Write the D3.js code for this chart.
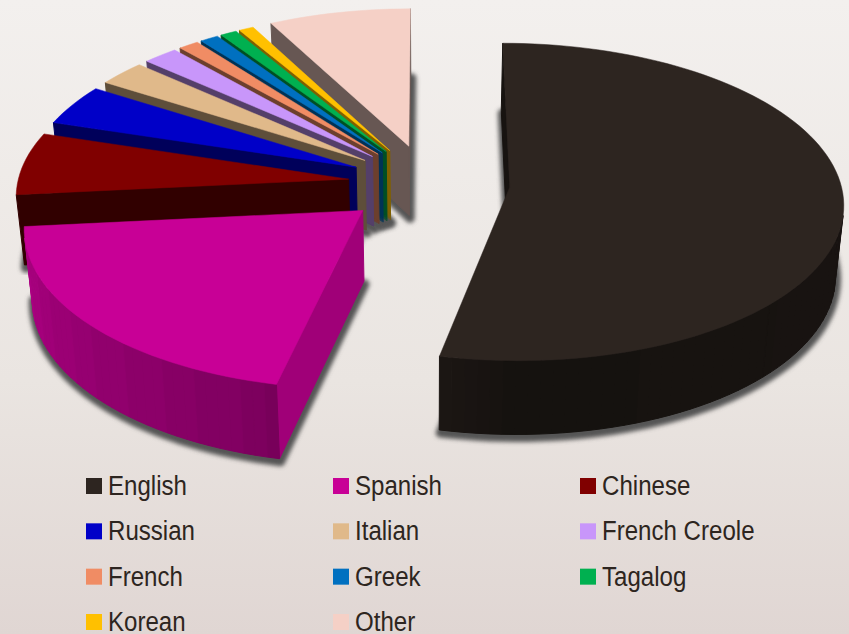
<!DOCTYPE html>
<html>
<head>
<meta charset="utf-8">
<script src="https://cdn.jsdelivr.net/npm/d3@7"></script>
<style>
  html, body { margin: 0; padding: 0; }
  svg { display: block; }
</style>
</head>
<body>
<svg id="graph"></svg>
<script>
const languages = ["English", "Spanish", "Chinese", "Russian", "Italian", "French Creole", "French", "Greek", "Tagalog", "Korean", "Other"];
const shares = [53.5, 20.0, 6.4, 4.2, 2.6, 1.9, 1.1, 1.0, 0.9, 0.8, 7.7];
const colors = ["#2d2520", "#c80096", "#800000", "#0000c8", "#e0b98a", "#c896fa", "#f08c64", "#0070c0", "#00b050", "#ffc000", "#f5d0c6"];
const sideShade = [0.5, 0.8, 0.38, 0.45, 0.42, 0.42, 0.45, 0.45, 0.45, 0.5, 0.42];
const pull = [82, 86, 80, 80, 80, 80, 80, 80, 80, 80, 82];

const width = 849;
const height = 634;
const radius = 331;
const thickness = 70;
const center = { x: 428, y: 183 };
const tilt = 0.473;
const persp = 0.00028;
const shrink = 0.02;

const svg = d3.select("#graph").attr("width", width).attr("height", height);
const defs = svg.append("defs");

const grad = defs.append("linearGradient").attr("id", "bg").attr("x1", 0).attr("x2", 0).attr("y1", 0).attr("y2", 1);
grad.append("stop").attr("offset", "0%").attr("stop-color", "#f3f0ee");
grad.append("stop").attr("offset", "60%").attr("stop-color", "#eae5e1");
grad.append("stop").attr("offset", "100%").attr("stop-color", "#e0d6d3");
defs.append("filter").attr("id", "blur")
  .attr("x", "-10%").attr("y", "-10%").attr("width", "120%").attr("height", "120%")
  .append("feGaussianBlur").attr("stdDeviation", 2.2);

svg.append("rect").attr("width", width).attr("height", height).attr("fill", "url(#bg)");

const pie = d3.pie().sort(null);
const arcs = pie(shares).map((d, i) => {
  d.i = i;
  d.mid = (d.startAngle + d.endAngle) / 2;
  return d;
});

// ground plane to screen: y grows towards the viewer, depth 0..1 goes down the side
function project(X, Y, depth) {
  const s = 1 / (1 - persp * Y);
  const k = 1 - shrink * depth;
  return [
    center.x + X * s * k,
    center.y + Y * tilt * s * k + depth * thickness * s
  ];
}

const line = d3.line().curve(d3.curveLinear);
const arcShade = d3.scaleLinear()
  .domain([0, Math.PI / 2, Math.PI, 1.08 * Math.PI, 1.47 * Math.PI, 2 * Math.PI])
  .range([0.55, 0.55, 0.47, 0.62, 0.87, 0.6])
  .clamp(true);

function shade(color, f) {
  const c = d3.rgb(color);
  return d3.rgb(c.r * f, c.g * f, c.b * f).formatHex();
}

function area(pts) {
  return d3.sum(pts, (p, i) => {
    const q = pts[(i + 1) % pts.length];
    return p[0] * q[1] - q[0] * p[1];
  });
}

function drawSlice(d) {
  const g = svg.append("g").attr("class", "slice");
  const ox = pull[d.i] * Math.sin(d.mid);
  const oy = -pull[d.i] * Math.cos(d.mid);
  const steps = Math.max(2, Math.ceil((d.endAngle - d.startAngle) / 0.035));
  const angles = d3.range(steps + 1).map((j) => d.startAngle + (d.endAngle - d.startAngle) * j / steps);
  const at = (a, r, depth) => project(ox + r * Math.sin(a), oy - r * Math.cos(a), depth);
  const outline = (depth) => [[ox, oy], ...angles.map((a) => [ox + radius * Math.sin(a), oy - radius * Math.cos(a)])]
    .map((p) => project(p[0], p[1], depth));

  g.append("path")
    .attr("d", line(outline(1)) + "Z")
    .attr("transform", "translate(1,3)")
    .attr("fill", "#555")
    .attr("stroke", "#555")
    .attr("stroke-width", 9)
    .attr("stroke-linejoin", "round")
    .attr("filter", "url(#blur)");

  const wall = (a, b, fill) => {
    const quad = [a(0), b(0), b(1), a(1)];
    if (area(quad) >= 0) return;
    g.append("path").attr("d", line(quad) + "Z").attr("fill", fill).attr("stroke", fill).attr("stroke-width", 1);
  };
  const apex = (depth) => project(ox, oy, depth);
  const side = shade(colors[d.i], sideShade[d.i]);
  wall(apex, (z) => at(d.startAngle, radius, z), side);
  wall((z) => at(d.endAngle, radius, z), apex, side);
  d3.pairs(angles).forEach(([a0, a1]) => {
    const f = Math.round(arcShade((a0 + a1) / 2) * 40) / 40;
    wall((z) => at(a0, radius, z), (z) => at(a1, radius, z), shade(colors[d.i], f));
  });

  g.append("path")
    .attr("d", line(outline(0)) + "Z")
    .attr("fill", colors[d.i])
    .attr("stroke", colors[d.i])
    .attr("stroke-width", 0.5);
}

arcs.slice().sort((a, b) => d3.ascending(-Math.cos(a.mid), -Math.cos(b.mid))).forEach(drawSlice);

const legendX = d3.scalePoint().domain([0, 1, 2]).range([86, 580]);
const legendY = d3.scaleLinear().domain([0, 3]).range([495, 631]);

const legend = svg.append("g").selectAll("g").data(languages).join("g")
  .attr("transform", (d, i) => `translate(${legendX(i % 3)},${legendY(Math.floor(i / 3))})`);
legend.append("rect")
  .attr("y", -17).attr("width", 16).attr("height", 16)
  .attr("fill", (d, i) => colors[i]);
legend.append("text")
  .attr("transform", "translate(22,0) scale(0.86,1)")
  .attr("font-family", "'Liberation Sans', Arial, sans-serif")
  .attr("font-size", 28)
  .attr("fill", "#2d2520")
  .text((d) => d);
</script>
</body>
</html>
